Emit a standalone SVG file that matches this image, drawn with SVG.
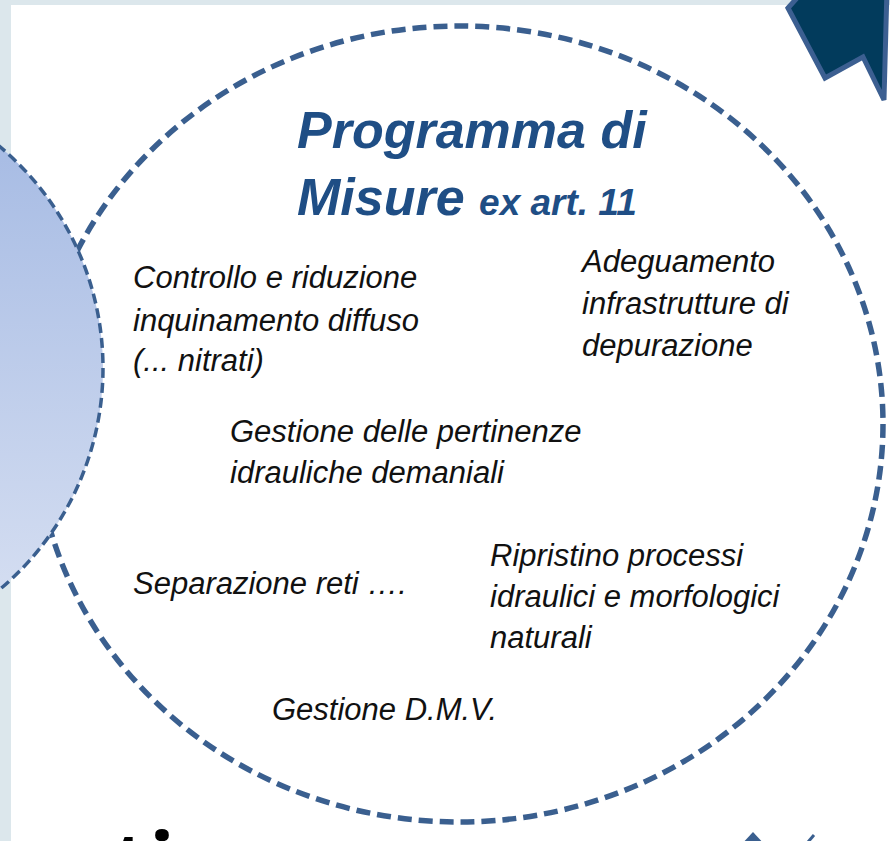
<svg xmlns="http://www.w3.org/2000/svg" width="890" height="841" viewBox="0 0 890 841">
<style>
.title{font-family:"Liberation Sans",Arial,sans-serif;font-weight:bold;font-style:italic;fill:#1F4E85}
.item{font-family:"Liberation Sans",Arial,sans-serif;font-style:italic;font-size:31px;fill:#111}
.big{font-family:"Open Sans","Liberation Sans",sans-serif;font-weight:bold;font-size:85px;fill:#000}
</style>
<defs>
<linearGradient id="gLeft" x1="0" y1="0" x2="0" y2="1">
<stop offset="0" stop-color="#A1B7E2"/>
<stop offset="1" stop-color="#DAE2F3"/>
</linearGradient>
</defs>
<rect x="0" y="0" width="890" height="841" fill="#DCE7EC"/>
<rect x="11" y="5" width="879" height="836" fill="#FFFFFF"/>
<text class="big" x="112" y="893">ti</text>
<g id="node-programma">
<ellipse cx="459" cy="424" rx="424" ry="398" fill="none" stroke="#3A5F8F" stroke-width="5.5" stroke-dasharray="14 7"/>
<text class="title" x="297" y="148" font-size="52">Programma di</text>
<text class="title" x="297" y="215" font-size="52">Misure <tspan font-size="37">ex art. 11</tspan></text>
<text class="item" x="133" y="288">Controllo e riduzione</text>
<text class="item" x="133" y="331">inquinamento diffuso</text>
<text class="item" x="133" y="371">(... nitrati)</text>
<text class="item" x="582" y="272">Adeguamento</text>
<text class="item" x="582" y="314">infrastrutture di</text>
<text class="item" x="582" y="356">depurazione</text>
<text class="item" x="230" y="442">Gestione delle pertinenze</text>
<text class="item" x="230" y="483">idrauliche demaniali</text>
<text class="item" x="133" y="594">Separazione reti ….</text>
<text class="item" x="490" y="566">Ripristino processi</text>
<text class="item" x="490" y="607">idraulici e morfologici</text>
<text class="item" x="490" y="648">naturali</text>
<text class="item" x="272" y="720">Gestione D.M.V.</text>
</g>
<g id="node-left">
<circle cx="-186" cy="368" r="289" fill="url(#gLeft)" stroke="#3A5F8F" stroke-width="3.5" stroke-dasharray="10 5"/>
</g>
<g id="connectors">
<polygon points="788,8 806,-12 887,-12 884,100 863,57 825,78" fill="#023B5C" stroke="#3C5F91" stroke-width="5" stroke-linejoin="miter"/>
<polygon points="753,832 766,846 740,846" fill="#3A5F8F"/>
<line x1="814" y1="835" x2="808" y2="842" stroke="#3A5F8F" stroke-width="3"/>
</g>
</svg>
